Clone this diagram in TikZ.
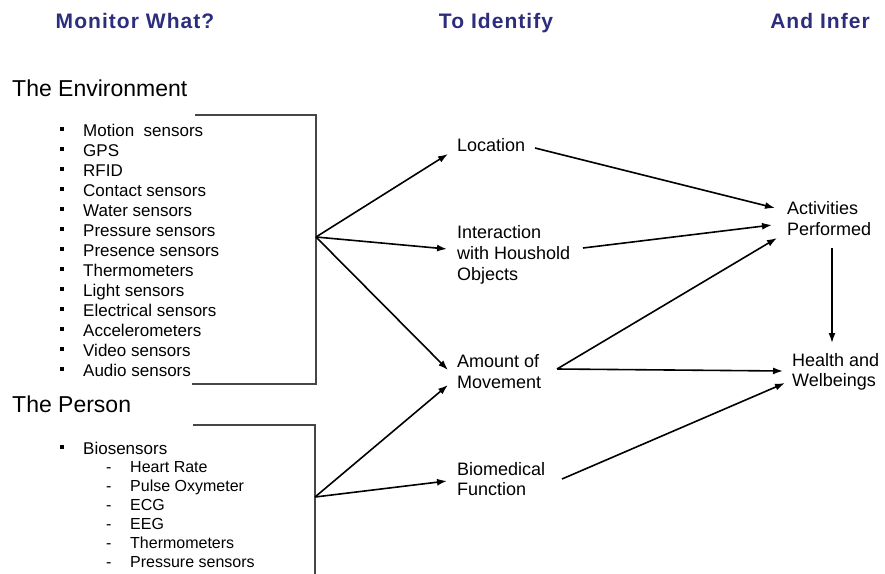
\documentclass[tikz,border=0pt]{standalone}
\usepackage{fontspec}
\setmainfont{Liberation Sans}
\usetikzlibrary{arrows.meta,calc}
\definecolor{hdrblue}{RGB}{45,45,125}
\definecolor{brkgray}{RGB}{70,70,70}
\begin{document}
\begin{tikzpicture}[x=1pt,y=-1pt,
  hdr/.style={anchor=base,inner sep=0pt,text=hdrblue,font=\fontsize{21}{24}\selectfont\bfseries\addfontfeatures{LetterSpace=5}},
  sect/.style={anchor=base west,inner sep=0pt,font=\fontsize{23}{27}\selectfont},
  item/.style={anchor=base west,inner sep=0pt,font=\fontsize{17}{20}\selectfont},
  subitem/.style={anchor=base west,inner sep=0pt,font=\fontsize{16}{19}\selectfont},
  lbl/.style={anchor=base west,inner sep=0pt,align=left,font=\fontsize{18}{21}\selectfont},
  brk/.style={draw=brkgray,line width=1.2pt},
  arr/.style={-{Latex[length=10pt,width=7pt]},line width=1.6pt}]
\useasboundingbox[fill=white] (0,0) rectangle (885,573);

% headers
\node[hdr] (h1) at (135,28.5) {Monitor What?};
\node[hdr] (h2) at (496,28.5) {To Identify};
\node[hdr] (h3) at (820,28.5) {And Infer};

% sections
\node[sect] (envT) at (12,96.7) {The Environment};
\node[sect] (perT) at (12,412) {The Person};

% environment list
\foreach \t [count=\i] in {Motion~ sensors, GPS, RFID, Contact sensors, Water sensors, Pressure sensors, Presence sensors, Thermometers, Light sensors, Electrical sensors, Accelerometers, Video sensors, Audio sensors}{
  \node[item] (env\i) at (83,{136+20*(\i-1)}) {\t};
  \fill ($(env\i.base west)+(-23,-9.5)$) rectangle ++(4,4.5);
}

% person list
\node[item] (bio) at (83,454) {Biosensors};
\fill ($(bio.base west)+(-23,-9.5)$) rectangle ++(4,4.5);
\foreach \t [count=\i] in {Heart Rate, Pulse Oxymeter, ECG, EEG, Thermometers, Pressure sensors}{
  \node[subitem] (dash\i) at (106,{472+19*(\i-1)}) {-};
  \node[subitem] (sub\i) at (130,{472+19*(\i-1)}) {\t};
}

% brackets
\draw[brk] (195,115) -| (316,384) -- (192,384);
\coordinate (envTip) at (316,237);
\draw[brk] (193,425) -| (315,575);
\coordinate (perTip) at (315,497);

% middle labels (base = last line)
\node[lbl] (loc) at (457,151.7) {Location};
\node[lbl] (inter) at (457,280) {Interaction\\with Houshold\\Objects};
\node[lbl] (amt) at (457,388.3) {Amount of\\Movement};
\node[lbl,font=\fontsize{18}{20}\selectfont] (biomed) at (457,495.7) {Biomedical\\Function};

% right labels
\node[lbl] (act) at (787,235) {Activities\\Performed};
\node[lbl,font=\fontsize{18}{20.7}\selectfont] (health) at (792,386.7) {Health and\\Welbeings};

% arrows from brackets
\draw[arr] (envTip) -- ($(loc.base west)+(-9,2.3)$);
\draw[arr] (envTip) -- ($(inter.base west)+(-10,-31)$);
\draw[arr] (envTip) -- ($(amt.base west)+(-9,-18.3)$);
\draw[arr] (perTip) -- ($(amt.base west)+(-9,-3.3)$);
\draw[arr] (perTip) -- ($(biomed.base west)+(-10,-14.7)$);

% arrows to inferences
\draw[arr] ($(loc.base west)+(78,-3.7)$) -- ($(act.base west)+(-12,-27)$);
\draw[arr] ($(inter.base west)+(126,-32)$) -- ($(act.base west)+(-15,-10)$);
\draw[arr] ($(amt.base west)+(100,-19.3)$) -- ($(act.base west)+(-10,3)$);
\draw[arr] ($(amt.base west)+(100,-19.3)$) -- ($(health.base west)+(-9,-15.7)$);
\draw[arr] ($(biomed.base west)+(105,-16.7)$) -- ($(health.base west)+(-7,-3.7)$);
\draw[arr] ($(act.base west)+(45,13)$) -- ($(health.base west)+(40,-43.7)$);
\end{tikzpicture}
\end{document}
